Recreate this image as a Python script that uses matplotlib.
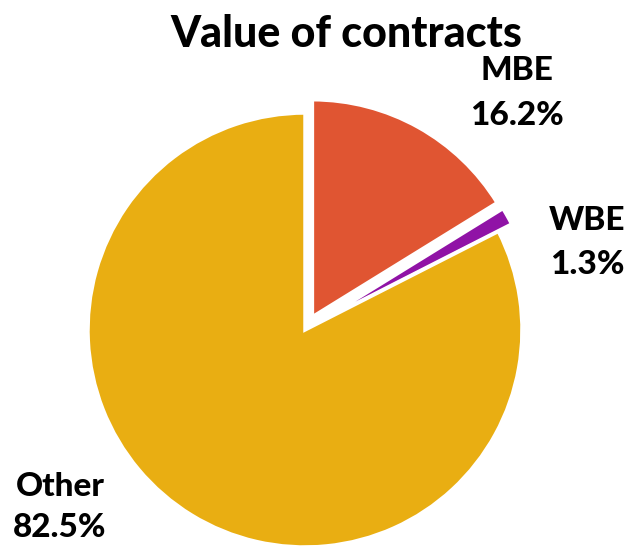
import matplotlib.pyplot as plt

plt.rcParams['font.family'] = ['Lato', 'DejaVu Sans']

labels = ["MBE", "WBE", "Other"]
shares = [16.2, 1.3, 82.5]
colors = ["#E05532", "#9013A6", "#E9AE12"]
explode = [0.07, 0.07, 0.0]

W, H = 629, 548
cx, cy, r = 305, 330, 217  # pie centre / radius in pixels (y from top)

fig = plt.figure(figsize=(W / 100, H / 100), dpi=100)
fig.set_facecolor("white")
ax = fig.add_axes([0, 0, 1, 1])

ax.pie(shares, colors=colors, explode=explode, startangle=90,
       counterclock=False, radius=1.0,
       wedgeprops=dict(edgecolor="white", linewidth=2.5))
ax.set_xlim(-cx / r, (W - cx) / r)
ax.set_ylim(-(H - cy) / r, cy / r)
ax.set_aspect("equal", adjustable="datalim")
ax.axis("off")

# label spots in pixels: x centre, baseline of name, baseline of share
spots = [(517, 80, 125), (587, 230, 274), (60, 496, 537)]
for lab, val, (px, b1, b2) in zip(labels, shares, spots):
    fig.text(px / W, 1 - b1 / H, lab, ha="center", va="baseline",
             fontsize=24, fontweight="black")
    fig.text(px / W, 1 - b2 / H, f"{val}%", ha="center", va="baseline",
             fontsize=24, fontweight="black")

fig.text(346 / W, 1 - 47 / H, "Value of contracts", ha="center", va="baseline",
         fontsize=31, fontweight="black")

fig.savefig("out.png", dpi=100, facecolor="white")
